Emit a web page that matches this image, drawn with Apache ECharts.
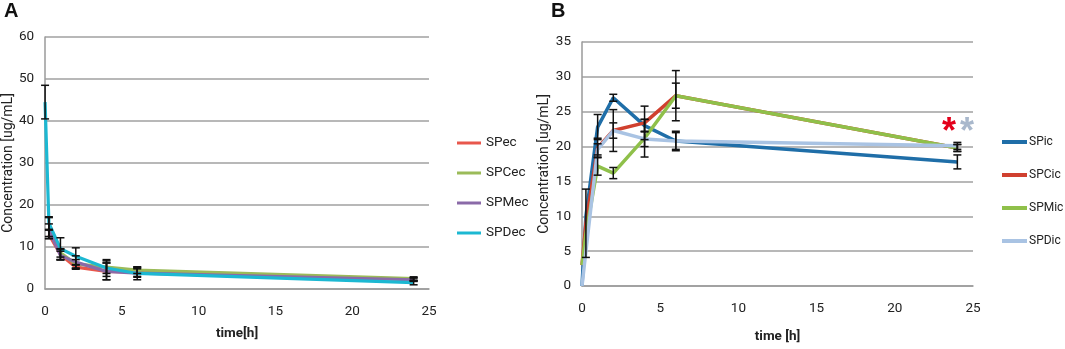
<!DOCTYPE html>
<html><head><meta charset="utf-8">
<script src="https://cdn.jsdelivr.net/npm/echarts@6/dist/echarts.min.js"></script>
<style>html,body{margin:0;padding:0;background:#fff}#c{width:1065px;height:349px}</style>
</head><body><div id="c"></div>
<script>
// ---- Data ----
const timesA = [0, 0.25, 1, 2, 4, 6, 24];
const namesA = ['SPec', 'SPCec', 'SPMec', 'SPDec'];
const SPec  = [null, 13.0, 8.2, 5.2, 4.2, 4.0, 2.3];
const SPCec = [null, 14.5, 8.6, 6.0, 5.2, 4.5, 2.5];
const SPMec = [null, 14.0, 8.0, 6.4, 4.2, 3.8, 2.2];
const SPDec = [44.5, 15.7, 9.6, 7.8, 5.0, 3.7, 1.5];
const errSPec  = [null, 1.0, 1.3, 0.5, 2.0, 1.0, 0.4];
const errSPCec = [null, 2.5, 1.0, 1.0, 1.5, 0.8, 0.4];
const errSPMec = [null, 1.5, 1.0, 1.5, 2.0, 1.0, 0.4];
const errSPDec = [4.0, 1.5, 2.6, 2.0, 2.0, 1.5, 0.5];

const timesB = [0, 0.25, 1, 2, 4, 6, 24];
const namesB = ['SPic', 'SPCic', 'SPMic', 'SPDic'];
const SPic  = [0, 10.0, 22.8, 27.0, 23.0, 20.8, 17.8];
const SPCic = [3.0, 9.0, 19.8, 22.3, 23.4, 27.3, 19.8];
const SPMic = [3.0, 7.5, 17.2, 16.2, 21.2, 27.3, 19.8];
const SPDic = [0, 5.0, 19.6, 22.3, 21.1, 20.8, 20.1];
const errSPic  = [null, null, 1.8, 0.5, 0.9, 1.2, 1.0];
const errSPCic = [null, 4.9, 1.4, 3.0, 2.4, 3.6, 0.5];
const errSPMic = [null, null, 1.3, 0.8, 2.7, 1.8, 0.5];
const errSPDic = [null, null, 0.8, 1.1, 1.1, 1.4, 0.5];

const xTicks = [0, 5, 10, 15, 20, 25];

// ---- Build ----
const colA = ['#e8574c', '#9bbb59', '#8a6aa8', '#1cb8d2'];
const colB = ['#1f6ea8', '#d0402f', '#8fc04a', '#a9c3e3'];
const font = "Roboto,'Open Sans',sans-serif";

function pts(t, v){ return t.map((x,i)=> v[i]==null ? null : [x, v[i]]).filter(p=>p); }
function errs(t, v, e){ const out=[]; t.forEach((x,i)=>{ if(v[i]!=null && e[i]!=null) out.push([x, v[i]-e[i], v[i]+e[i]]); }); return out; }
function errSeries(data, xi, yi){
  return {type:'custom', xAxisIndex:xi, yAxisIndex:yi, z:10, silent:true,
    data, encode:{x:0, y:[1,2]},
    renderItem:(params, api)=>{
      const lo = api.coord([api.value(0), api.value(1)]);
      const hi = api.coord([api.value(0), api.value(2)]);
      const w = 4, st = {stroke:'#111', lineWidth:1.5};
      return {type:'group', children:[
        {type:'line', shape:{x1:lo[0],y1:lo[1],x2:hi[0],y2:hi[1]}, style:st},
        {type:'line', shape:{x1:lo[0]-w,y1:lo[1],x2:lo[0]+w,y2:lo[1]}, style:st},
        {type:'line', shape:{x1:hi[0]-w,y1:hi[1],x2:hi[0]+w,y2:hi[1]}, style:st}
      ]};
    }};
}
function lineSeries(name, data, color, xi, yi, w){
  return {type:'line', name, data, xAxisIndex:xi, yAxisIndex:yi, showSymbol:false, symbol:'none',
    lineStyle:{color, width:w}, itemStyle:{color}, z:5};
}

const valsA=[SPec,SPCec,SPMec,SPDec], errA=[errSPec,errSPCec,errSPMec,errSPDec];
const valsB=[SPic,SPCic,SPMic,SPDic], errB=[errSPic,errSPCic,errSPMic,errSPDic];
const series=[];
valsA.forEach((v,i)=>series.push(lineSeries(namesA[i], pts(timesA,v), colA[i], 0, 0, 3.2)));
valsB.forEach((v,i)=>series.push(lineSeries(namesB[i], pts(timesB,v), colB[i], 1, 1, 3.5)));
valsA.forEach((v,i)=>series.push(errSeries(errs(timesA,v,errA[i]),0,0)));
valsB.forEach((v,i)=>series.push(errSeries(errs(timesB,v,errB[i]),1,1)));

const grid=[{left:45, top:37, width:384, height:252}, {left:582, top:42, width:391, height:244}];
const axLine={show:true, lineStyle:{color:'#9a9a9a', width:1.5}};
const split={show:true, lineStyle:{color:'#a0a0a0', width:1.5}};
const lab={color:'#222', fontSize:13.5, fontFamily:font};
function xAx(gi, name, gap){
  return {type:'value', gridIndex:gi, min:xTicks[0], max:xTicks[xTicks.length-1], interval:5,
    axisLine:axLine, axisTick:{show:false}, splitLine:{show:false},
    axisLabel:Object.assign({margin:16}, lab),
    name, nameLocation:'middle', nameGap:gap,
    nameTextStyle:{fontWeight:'bold', fontSize:13.5, color:'#222', fontFamily:font}};
}
function yAx(gi, max, iv, gap){
  return {type:'value', gridIndex:gi, min:0, max, interval:iv,
    axisLine:axLine, axisTick:{show:false}, splitLine:split,
    axisLabel:Object.assign({margin:11}, lab),
    name:'Concentration [ug/mL]', nameLocation:'middle', nameGap:gap,
    nameTextStyle:{fontSize:14, color:'#222', fontFamily:font}};
}

const chart=echarts.init(document.getElementById('c'), null, {renderer:'canvas'});
chart.setOption({
  animation:false,
  backgroundColor:'#fff',
  grid,
  xAxis:[xAx(0,'time[h]',38), xAx(1,'time [h]',44)],
  yAxis:[yAx(0,60,10,27), yAx(1,35,5,31)],
  legend:[
    {data:namesA, orient:'vertical', left:457, top:136, padding:0, itemGap:16, itemWidth:24, itemHeight:3, icon:'rect',
     textStyle:{fontSize:13.5, color:'#222', fontFamily:font}},
    {data:namesB, orient:'vertical', left:1002, top:136, padding:0, itemGap:21, itemWidth:25, itemHeight:4, icon:'rect',
     textStyle:{fontSize:12, color:'#222', fontFamily:font, padding:[0,0,0,-3]}}
  ],
  graphic:[
    {type:'text', left:4, top:1, style:{text:'A', font:"bold 20px 'Liberation Sans',Arial,sans-serif", fill:'#111'}},
    {type:'text', left:551, top:1, style:{text:'B', font:"bold 20px 'Liberation Sans',Arial,sans-serif", fill:'#111'}},
    {type:'text', left:942, top:115, style:{text:'*', font:"bold 36px 'Liberation Sans',Arial,sans-serif", fill:'#e3001b'}},
    {type:'text', left:960, top:115, style:{text:'*', font:"bold 36px 'Liberation Sans',Arial,sans-serif", fill:'#a9b8cc'}}
  ],
  series
});
</script></body></html>
